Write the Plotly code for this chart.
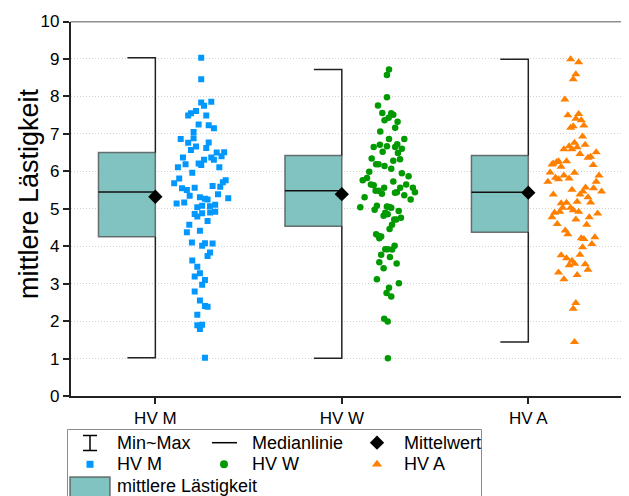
import plotly.graph_objects as go

# ---------------- data ----------------
categories = ["HV M", "HV W", "HV A"]
cat_pos = [1, 2, 3]

box_q1 = [4.25, 4.53, 4.37]
box_median = [5.45, 5.48, 5.44]
box_q3 = [6.50, 6.42, 6.42]
box_mean = [5.32, 5.39, 5.43]
box_min = [1.02, 1.01, 1.44]
box_max = [9.03, 8.72, 8.99]

y_ticks = [0, 1, 2, 3, 4, 5, 6, 7, 8, 9, 10]

hvm_values = [9.03, 8.46, 7.84, 7.86, 7.75, 7.61, 7.55, 7.49, 7.49, 7.25, 7.23, 7.15, 7.05, 6.86, 6.88,
              6.76, 6.77, 6.66, 6.62, 6.57, 6.50, 6.51, 6.37, 6.37, 6.40, 6.31, 6.31, 6.19, 6.21, 6.17,
              6.11, 6.11, 5.96, 5.81, 5.68, 5.76, 5.71, 5.55, 5.50, 5.56, 5.61, 5.59, 5.35, 5.39, 5.28,
              5.31, 5.27, 5.25, 5.14, 5.17, 5.08, 5.07, 5.11, 5.04, 4.86, 4.88, 4.90, 4.92, 4.79, 4.67,
              4.57, 4.37, 4.41, 4.10, 4.08, 4.07, 4.01, 3.83, 3.74, 3.62, 3.45, 3.28, 3.19, 3.10, 2.97,
              2.79, 2.55, 2.40, 2.38, 2.17, 1.89, 1.90, 1.79, 1.02]
hvm_jitter = [0.246, 0.246, 0.246, 0.300, 0.261, 0.218, 0.191, 0.176, 0.273, 0.232, 0.286, 0.314, 0.205, 0.136, 0.205,
              0.176, 0.286, 0.218, 0.273, 0.191, 0.329, 0.369, 0.148, 0.300, 0.355, 0.261, 0.314, 0.162, 0.232, 0.246,
              0.121, 0.343, 0.198, 0.128, 0.101, 0.377, 0.362, 0.143, 0.169, 0.211, 0.307, 0.348, 0.184, 0.336, 0.391,
              0.239, 0.266, 0.280, 0.114, 0.155, 0.251, 0.293, 0.321, 0.225, 0.211, 0.251, 0.294, 0.321, 0.225, 0.280,
              0.182, 0.169, 0.239, 0.196, 0.266, 0.307, 0.251, 0.293, 0.280, 0.198, 0.225, 0.239, 0.211, 0.266, 0.251,
              0.211, 0.239, 0.266, 0.280, 0.225, 0.225, 0.251, 0.239, 0.266]

hvw_values = [8.72, 8.57, 7.98, 7.76, 7.56, 7.55, 7.51, 7.43, 7.36, 7.32, 7.16, 7.06, 6.86, 6.86, 6.71,
              6.72, 6.65, 6.67, 6.65, 6.60, 6.52, 6.49, 6.34, 6.28, 6.32, 6.19, 6.19, 6.14, 6.07, 5.99,
              5.95, 5.82, 5.76, 5.87, 5.73, 5.65, 5.63, 5.65, 5.56, 5.56, 5.56, 5.48, 5.48, 5.44, 5.43,
              5.44, 5.40, 5.36, 5.31, 5.25, 5.04, 5.08, 5.06, 5.05, 5.03, 4.97, 4.94, 4.89, 4.85, 4.81,
              4.76, 4.71, 4.71, 4.57, 4.46, 4.32, 4.27, 4.26, 4.21, 4.01, 3.92, 3.92, 3.91, 3.77, 3.71,
              3.57, 3.54, 3.41, 3.12, 3.01, 2.89, 2.75, 2.66, 2.06, 1.99, 1.01]
hvw_jitter = [0.253, 0.242, 0.242, 0.194, 0.217, 0.265, 0.276, 0.251, 0.229, 0.299, 0.286, 0.206, 0.253, 0.335, 0.204,
              0.297, 0.171, 0.242, 0.286, 0.322, 0.219, 0.301, 0.160, 0.276, 0.312, 0.184, 0.197, 0.229, 0.265, 0.147,
              0.322, 0.135, 0.112, 0.358, 0.276, 0.156, 0.171, 0.345, 0.227, 0.381, 0.313, 0.181, 0.197, 0.295, 0.285,
              0.392, 0.215, 0.335, 0.122, 0.369, 0.099, 0.188, 0.242, 0.254, 0.265, 0.176, 0.305, 0.233, 0.246, 0.224,
              0.317, 0.281, 0.292, 0.269, 0.256, 0.184, 0.197, 0.211, 0.201, 0.283, 0.233, 0.246, 0.270, 0.211, 0.258,
              0.201, 0.294, 0.224, 0.188, 0.306, 0.253, 0.240, 0.265, 0.227, 0.246, 0.247]

hva_values = [8.99, 8.91, 8.59, 8.46, 7.92, 7.50, 7.53, 7.40, 7.36, 7.22, 7.16, 7.20, 6.93, 6.76, 6.71,
              6.67, 6.64, 6.59, 6.59, 6.51, 6.46, 6.36, 6.39, 6.27, 6.21, 6.25, 6.27, 6.18, 6.17, 6.12,
              5.97, 5.96, 5.89, 5.83, 5.79, 5.89, 5.81, 5.72, 5.72, 5.38, 5.51, 5.57, 5.55, 5.46, 5.38,
              5.46, 5.31, 5.19, 5.17, 5.15, 5.16, 5.03, 5.03, 4.96, 4.92, 4.92, 4.89, 4.77, 4.71, 4.77,
              4.87, 4.59, 4.57, 4.42, 4.32, 4.21, 4.19, 4.24, 3.97, 4.06, 3.76, 3.68, 3.77, 3.61, 3.53,
              3.49, 3.52, 3.37, 3.30, 3.23, 3.12, 2.48, 2.33, 1.44]
hva_jitter = [0.227, 0.270, 0.255, 0.241, 0.196, 0.212, 0.270, 0.255, 0.284, 0.298, 0.227, 0.241, 0.291, 0.248, 0.305,
              0.219, 0.262, 0.191, 0.234, 0.364, 0.277, 0.320, 0.334, 0.205, 0.134, 0.152, 0.162, 0.127, 0.348, 0.176,
              0.117, 0.248, 0.379, 0.146, 0.162, 0.191, 0.219, 0.105, 0.364, 0.134, 0.234, 0.307, 0.350, 0.293, 0.277,
              0.393, 0.320, 0.262, 0.334, 0.176, 0.205, 0.184, 0.227, 0.241, 0.270, 0.169, 0.141, 0.127, 0.255, 0.327,
              0.372, 0.155, 0.313, 0.198, 0.212, 0.284, 0.298, 0.357, 0.291, 0.341, 0.176, 0.205, 0.277, 0.234, 0.248,
              0.219, 0.305, 0.320, 0.162, 0.262, 0.191, 0.255, 0.241, 0.248]

y_title = "mittlere Lästigkeit"
legend_labels = ["Min~Max", "Medianlinie", "Mittelwert", "HV M", "HV W", "HV A", "mittlere Lästigkeit"]

# ---------------- styles ----------------
OFF = 8                      # default page margin of the html body
W, H = 629 - OFF, 496 - OFF  # figure size so that it ends at the window edge
FONT = "Arial, Liberation Sans, sans-serif"
AXIS_COL = "#222222"
TEAL = "#80C3C0"
BOX_LINE = "rgba(80,80,80,0.8)"
COLORS = ["#0098FF", "#009A00", "#FF8000"]
SYMBOLS = ["square", "circle", "triangle-up"]
SIZES = [6, 6.5, 8]
BOX_W = 0.305
CAP_W = 0.15


def fx(px):  # screen x -> paper fraction
    return (px - OFF) / W


def fy(py):  # screen y -> paper fraction
    return (H - (py - OFF)) / H


fig = go.Figure()

# boxes (left half of each category)
fig.add_trace(go.Bar(
    x=cat_pos, y=[q3 - q1 for q1, q3 in zip(box_q1, box_q3)], base=box_q1,
    width=BOX_W, offset=-BOX_W,
    marker=dict(color=TEAL, line=dict(color=BOX_LINE, width=1.5)),
    showlegend=False, hoverinfo="skip"))

# whiskers (bracket style), medians, means
wx, wy, mx, my = [], [], [], []
for c, q1, q3, lo, hi, med in zip(cat_pos, box_q1, box_q3, box_min, box_max, box_median):
    wx += [c - CAP_W, c, c, None, c, c, c - CAP_W, None]
    wy += [hi, hi, q3, None, q1, lo, lo, None]
    mx += [c - BOX_W, c, None]
    my += [med, med, None]
fig.add_trace(go.Scatter(x=wx, y=wy, mode="lines", line=dict(color=AXIS_COL, width=1.5),
                         showlegend=False, hoverinfo="skip"))
fig.add_trace(go.Scatter(x=mx, y=my, mode="lines", line=dict(color="#111111", width=1.5),
                         showlegend=False, hoverinfo="skip"))
fig.add_trace(go.Scatter(x=cat_pos, y=box_mean, mode="markers",
                         marker=dict(symbol="diamond", size=11, color="black"),
                         showlegend=False, hoverinfo="skip"))

# raw points
groups = [(hvm_values, hvm_jitter), (hvw_values, hvw_jitter), (hva_values, hva_jitter)]
for i, (vals, jit) in enumerate(groups):
    fig.add_trace(go.Scatter(
        x=[cat_pos[i] + j for j in jit], y=vals, mode="markers", name=categories[i],
        marker=dict(symbol=SYMBOLS[i], size=SIZES[i], color=COLORS[i], line=dict(width=0)),
        showlegend=False, hoverinfo="skip"))

# ---------------- custom legend (screen-pixel overlay axes) ----------------
LX, LY = "x2", "y2"
row_y = [442.7, 464.3, 486.0]
col_sym = [90, 224, 377]
col_txt = [115, 250, 402]
fig.add_trace(go.Scatter(
    x=[83, 97, None, 90, 90, None, 83, 97], y=[435.5, 435.5, None, 435.5, 450.5, None, 450.5, 450.5],
    mode="lines", line=dict(color="black", width=1.5), xaxis=LX, yaxis=LY,
    showlegend=False, hoverinfo="skip"))
fig.add_trace(go.Scatter(x=[212, 237], y=[row_y[0], row_y[0]], mode="lines",
                         line=dict(color="black", width=1.5), xaxis=LX, yaxis=LY,
                         showlegend=False, hoverinfo="skip"))
fig.add_trace(go.Scatter(x=[col_sym[2]], y=[row_y[0]], mode="markers",
                         marker=dict(symbol="diamond", size=11, color="black"),
                         xaxis=LX, yaxis=LY, showlegend=False, hoverinfo="skip"))
for i in range(3):
    fig.add_trace(go.Scatter(x=[col_sym[i]], y=[row_y[1]], mode="markers",
                             marker=dict(symbol=SYMBOLS[i], size=[7, 8, 9][i], color=COLORS[i]),
                             xaxis=LX, yaxis=LY, showlegend=False, hoverinfo="skip"))

shapes = [
    dict(type="line", xref="x domain", yref="y", x0=0, x1=1, y0=10, y1=10,
         line=dict(color=AXIS_COL, width=1.5)),
    dict(type="rect", xref=LX, yref=LY, x0=67.5, x1=481.5, y0=429.5, y1=505,
         line=dict(color="#8c8c8c", width=1), fillcolor="rgba(0,0,0,0)"),
    dict(type="rect", xref=LX, yref=LY, x0=70, x1=110, y0=477, y1=505,
         line=dict(color=BOX_LINE, width=1.5), fillcolor=TEAL),
]

annotations = []
pos = [(col_txt[0], row_y[0]), (col_txt[1], row_y[0]), (col_txt[2], row_y[0]),
       (col_txt[0], row_y[1]), (col_txt[1], row_y[1]), (col_txt[2], row_y[1]),
       (col_txt[0], row_y[2])]
for lab, (px, py) in zip(legend_labels, pos):
    annotations.append(dict(text=lab, x=px, y=py, xref=LX, yref=LY, showarrow=False,
                            xanchor="left", yanchor="middle",
                            font=dict(family=FONT, size=18, color="black")))
annotations.append(dict(text=y_title, x=fx(29), y=fy(194), xref="paper", yref="paper",
                        showarrow=False, textangle=-90, xanchor="center", yanchor="middle",
                        font=dict(family=FONT, size=27, color="black")))

fig.update_layout(
    width=W, height=H,
    margin=dict(l=0, r=0, t=0, b=0, pad=0, autoexpand=False),
    paper_bgcolor="white", plot_bgcolor="rgba(0,0,0,0)",
    font=dict(family=FONT, color="black"),
    showlegend=False,
    barmode="overlay",
    shapes=shapes,
    annotations=annotations,
    xaxis=dict(domain=[fx(70.5), 1], range=[0.545, 3.54], anchor="y", automargin=False,
               tickmode="array", tickvals=cat_pos, ticktext=categories,
               showline=True, linecolor=AXIS_COL, linewidth=1.5,
               ticks="outside", ticklen=6, tickwidth=1.5, tickcolor=AXIS_COL,
               showgrid=False, zeroline=False, tickfont=dict(size=17, family=FONT)),
    yaxis=dict(domain=[fy(396), fy(21.5)], range=[0, 10], anchor="x", automargin=False,
               tickmode="array", tickvals=y_ticks,
               showline=True, linecolor=AXIS_COL, linewidth=1.5,
               ticks="outside", ticklen=6, tickwidth=1.5, tickcolor=AXIS_COL,
               showgrid=True, gridcolor="#d2d2d2", gridwidth=1, griddash="1px,2px",
               zeroline=False, tickfont=dict(size=17, family=FONT)),
    xaxis2=dict(domain=[0, 1], range=[OFF, OFF + W], anchor="y2", visible=False,
                fixedrange=True, automargin=False),
    yaxis2=dict(domain=[0, 1], range=[OFF + H, OFF], anchor="x2", visible=False,
                fixedrange=True, automargin=False),
)

fig.write_html("out.html")
